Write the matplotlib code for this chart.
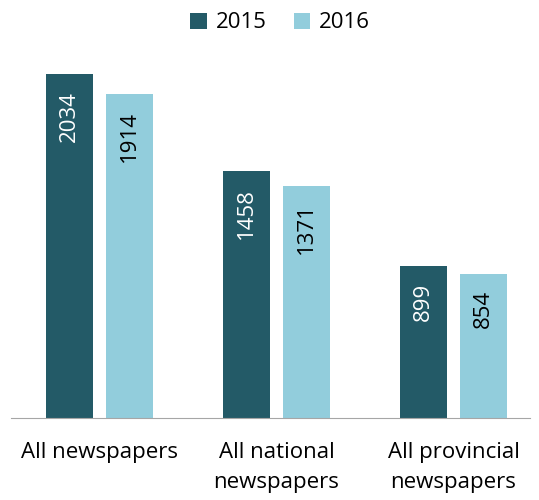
import matplotlib.pyplot as plt
import numpy as np

plt.rcParams['font.family'] = ['Open Sans', 'DejaVu Sans']

categories = ["All newspapers", "All national\nnewspapers", "All provincial\nnewspapers"]
years = ["2015", "2016"]
values_2015 = [2034, 1458, 899]
values_2016 = [1914, 1371, 854]

col_2015 = "#235A67"
col_2016 = "#92CDDC"

fig = plt.figure(figsize=(5.39, 5.0), dpi=100)
ax = fig.add_axes([11 / 539, 82 / 500, 519 / 539, 378 / 500])

x = np.arange(len(categories))
w = 0.266
off = 0.1695
b1 = ax.bar(x - off, values_2015, w, color=col_2015, label=years[0])
b2 = ax.bar(x + off, values_2016, w, color=col_2016, label=years[1])

# value labels, rotated, inside the top of each bar
for bars, tc in [(b1, "white"), (b2, "black")]:
    for r in bars:
        ax.annotate(str(int(r.get_height())), (r.get_x() + r.get_width() / 2, r.get_height()),
                    xytext=(0, -12), textcoords="offset points", rotation=90,
                    ha="center", va="top", color=tc, fontsize=16)

ax.set_xlim(-0.5, 2.432)
ax.set_ylim(0, 2034 * 378 / 344)
ax.set_xticks(x)
ax.set_xticklabels(categories, fontsize=16, linespacing=1.6)
ax.tick_params(axis="x", length=0, pad=17)
ax.set_yticks([])
for s in ["top", "right", "left"]:
    ax.spines[s].set_visible(False)
ax.spines["bottom"].set_color("#A6A6A6")

fig.legend(loc="upper center", bbox_to_anchor=(0.52, 1.015), ncol=2, frameon=False,
           fontsize=16, handlelength=0.75, handleheight=0.75, columnspacing=1.2,
           handletextpad=0.4)

fig.savefig("out.png", dpi=100)
